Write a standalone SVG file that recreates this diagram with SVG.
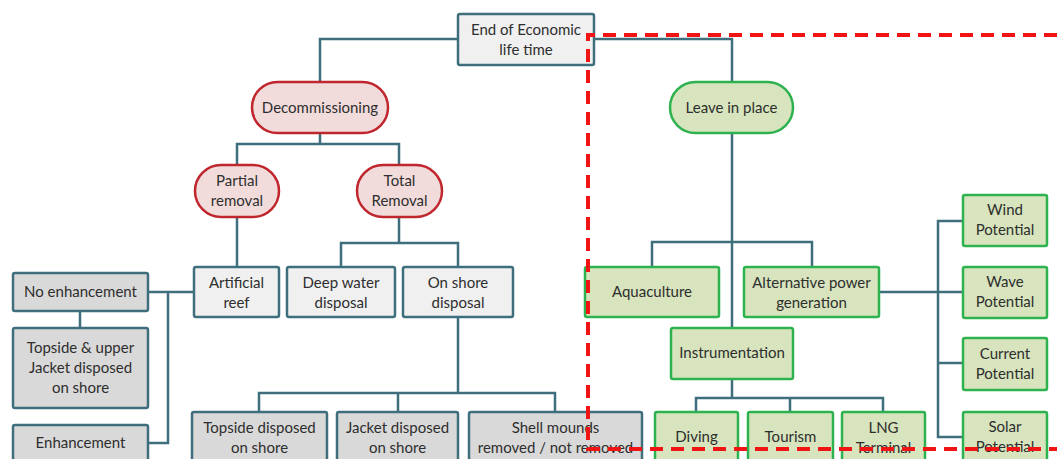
<svg xmlns="http://www.w3.org/2000/svg" width="1057" height="459" viewBox="0 0 1057 459">
<style>
.c{fill:none;stroke:#3f6f7d;stroke-width:2.5}
.g1{fill:#f0f0f0;stroke:#3f6f7d;stroke-width:2.5}
.g2{fill:#d9d9d9;stroke:#3f6f7d;stroke-width:2.5}
.r{fill:#f2dcdb;stroke:#c0262d;stroke-width:2.5}
.gr{fill:#d7e4bd;stroke:#2eb24f;stroke-width:2.5}
text{font-family:Lato,"Liberation Sans",sans-serif;font-size:15px;fill:#2e2e2e;text-anchor:middle}
.d{fill:none;stroke:#f01414;stroke-width:4;stroke-dasharray:13 8}
</style>
<rect width="1057" height="459" fill="#fff"/>
<g id="connectors">
<path class="c" d="M458,39H320V82"/>
<path class="c" d="M594,39H732V82"/>
<path class="c" d="M320,133V144M237,165V144H399V165"/>
<path class="c" d="M237,217V267"/>
<path class="c" d="M399,217V243M341,267V243H458V267"/>
<path class="c" d="M194,292H148M168,292V443H148"/>
<path class="c" d="M80,311V328"/>
<path class="c" d="M458,317V393M259,412V393H555V412M398,393V412"/>
<path class="c" d="M732,133V328M652,267V242H812V267"/>
<path class="c" d="M732,379V398M696,412V398H883V412M790,398V412"/>
<path class="c" d="M879,292H963M963,221H938V437H963M938,363H963"/>
</g>
<g id="n-end"><rect class="g1" x="458" y="14" width="136" height="51" rx="2"/><text x="526" y="35">End of Economic</text><text x="526" y="55">life time</text></g>
<g id="n-decom"><rect class="r" x="252" y="82" width="136" height="51" rx="25.5"/><text x="320" y="113">Decommissioning</text></g>
<g id="n-leave"><rect class="gr" x="670" y="82" width="123" height="51" rx="25.5"/><text x="731.5" y="113">Leave in place</text></g>
<g id="n-partial"><rect class="r" x="195" y="165" width="84" height="52" rx="26"/><text x="237" y="186">Partial</text><text x="237" y="206">removal</text></g>
<g id="n-total"><rect class="r" x="357" y="165" width="85" height="52" rx="26"/><text x="399.5" y="186">Total</text><text x="399.5" y="206">Removal</text></g>
<g id="n-reef"><rect class="g1" x="194" y="267" width="85" height="50" rx="2"/><text x="236.5" y="288">Artificial</text><text x="236.5" y="308">reef</text></g>
<g id="n-deep"><rect class="g1" x="287" y="267" width="108" height="50" rx="2"/><text x="341" y="288">Deep water</text><text x="341" y="308">disposal</text></g>
<g id="n-onshore"><rect class="g1" x="403" y="267" width="110" height="50" rx="2"/><text x="458" y="288">On shore</text><text x="458" y="308">disposal</text></g>
<g id="n-noenh"><rect class="g2" x="13" y="273" width="135" height="38" rx="2"/><text x="80.5" y="297">No enhancement</text></g>
<g id="n-topupper"><rect class="g2" x="13" y="328" width="135" height="80" rx="2"/><text x="80.5" y="353">Topside &amp; upper</text><text x="80.5" y="373">Jacket disposed</text><text x="80.5" y="393">on shore</text></g>
<g id="n-enh"><rect class="g2" x="13" y="425" width="135" height="38" rx="2"/><text x="80.5" y="448">Enhancement</text></g>
<g id="n-topside"><rect class="g2" x="192" y="412" width="135" height="50" rx="2"/><text x="259.5" y="433">Topside disposed</text><text x="259.5" y="453">on shore</text></g>
<g id="n-jacket"><rect class="g2" x="337" y="412" width="121" height="50" rx="2"/><text x="397.5" y="433">Jacket disposed</text><text x="397.5" y="453">on shore</text></g>
<g id="n-shell"><rect class="g2" x="469" y="412" width="173" height="50" rx="2"/><text x="555.5" y="433">Shell mounds</text><text x="555.5" y="453">removed / not removed</text></g>
<g id="n-aqua"><rect class="gr" x="585" y="267" width="134" height="50" rx="2"/><text x="652" y="297">Aquaculture</text></g>
<g id="n-alt"><rect class="gr" x="744" y="267" width="135" height="50" rx="2"/><text x="811.5" y="288">Alternative power</text><text x="811.5" y="308">generation</text></g>
<g id="n-instr"><rect class="gr" x="671" y="328" width="122" height="51" rx="2"/><text x="732" y="358">Instrumentation</text></g>
<g id="n-diving"><rect class="gr" x="655" y="412" width="83" height="50" rx="2"/><text x="696.5" y="442">Diving</text></g>
<g id="n-tourism"><rect class="gr" x="748" y="412" width="85" height="50" rx="2"/><text x="790.5" y="442">Tourism</text></g>
<g id="n-lng"><rect class="gr" x="842" y="412" width="83" height="50" rx="2"/><text x="883.5" y="433">LNG</text><text x="883.5" y="453">Terminal</text></g>
<g id="n-wind"><rect class="gr" x="963" y="195" width="84" height="51" rx="2"/><text x="1005" y="215">Wind</text><text x="1005" y="235">Potential</text></g>
<g id="n-wave"><rect class="gr" x="963" y="267" width="84" height="51" rx="2"/><text x="1005" y="287">Wave</text><text x="1005" y="307">Potential</text></g>
<g id="n-current"><rect class="gr" x="963" y="338" width="84" height="52" rx="2"/><text x="1005" y="359">Current</text><text x="1005" y="379">Potential</text></g>
<g id="n-solar"><rect class="gr" x="963" y="412" width="84" height="51" rx="2"/><text x="1005" y="432">Solar</text><text x="1005" y="452">Potential</text></g>
<g id="highlight"><path class="d" d="M1057,35H588V449H1057"/></g>
</svg>
